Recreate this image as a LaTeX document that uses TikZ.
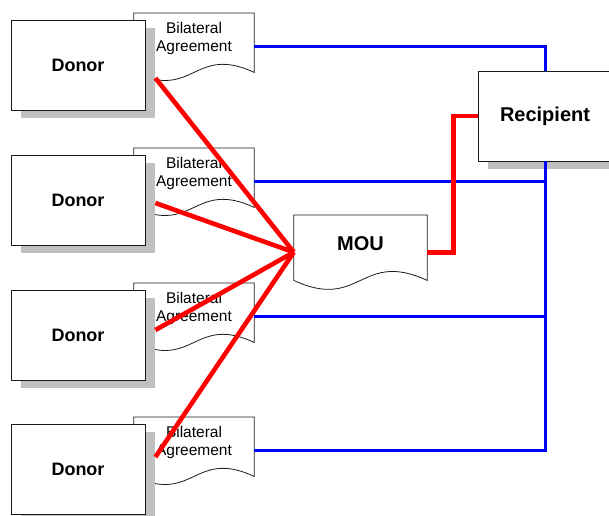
\documentclass[tikz,border=0pt]{standalone}
\usepackage{fontspec}
\setmainfont{Liberation Sans}
\usetikzlibrary{calc,shadows}
\definecolor{aidred}{HTML}{FF0000}
\definecolor{aidblue}{HTML}{0000FF}
\definecolor{aidshade}{HTML}{C0C0C0}
\definecolor{aidink}{HTML}{1A1A1A}

% outline of a document shape round a node: sides dropped by #2, wave depth #3
\newcommand{\docoutline}[3]{%
  \draw[docline] (#1.north west) -- (#1.north east) -- ($(#1.south east)+(0,#2)$)
    .. controls ($(#1.south)+(0,#2-#3)$) and ($(#1.south)+(0,#2+#3)$) .. ($(#1.south west)+(0,#2)$)
    -- cycle;}

\begin{document}
\begin{tikzpicture}[
  x=1pt, y=-1pt,
  box/.style={draw=aidink, fill=white, line width=0.8pt, minimum width=134pt, minimum height=90pt,
    drop shadow={shadow xshift=10pt, shadow yshift=-8pt, fill=aidshade, opacity=1}},
  donor/.style={box, font=\fontsize{18}{21}\selectfont\bfseries},
  recipient/.style={box, font=\fontsize{20}{23}\selectfont\bfseries},
  doc/.style={minimum width=120pt, minimum height=50pt, inner sep=0pt, align=center,
    font=\fontsize{15.5}{18}\selectfont},
  mou/.style={minimum width=133pt, minimum height=56pt, inner sep=0pt,
    font=\fontsize{20}{23}\selectfont\bfseries},
  docline/.style={draw=aidink, line width=0.8pt},
  bluelink/.style={draw=aidblue, line width=3pt},
  redlink/.style={draw=aidred, line width=4.6pt}
]
\useasboundingbox (0,0) rectangle (609,515);

% agreements sit behind the donors
\foreach \i/\y in {1/65,2/200,3/335,4/469}{
  \node[doc, anchor=north] (agr\i) at (194,\y-52) {Bilateral\\Agreement};
  \docoutline{agr\i}{9}{28}
  \coordinate (out\i) at ($(agr\i.east)+(0,8)$);
}

\foreach \i/\y/\dy in {1/65/13,2/200/3,3/335/-5,4/469/-12}{
  \node[donor] (donor\i) at (78,\y) {Donor};
  \coordinate (tie\i) at ($(donor\i.east)+(10,\dy)$);
}

\node[mou, anchor=north] (mou) at (360.5,215) {MOU};
\docoutline{mou}{9}{31}
\node[recipient] (rcp) at (545,116) {Recipient};

% blue links to the recipient
\draw[bluelink] (out1) -| (rcp.north);
\draw[bluelink] (rcp.south) |- (out4);
\draw[bluelink] (out2) -- (out2 -| rcp.south);
\draw[bluelink] (out3) -- (out3 -| rcp.south);

% red links through the MOU
\coordinate (hub) at ($(mou.west)+(0,9)$);
\foreach \i in {1,...,4}
  \draw[redlink] (tie\i) -- (hub);
\draw[redlink] ($(mou.east)+(0,9)$) -- ++(26,0) |- (rcp.west);
\end{tikzpicture}
\end{document}
